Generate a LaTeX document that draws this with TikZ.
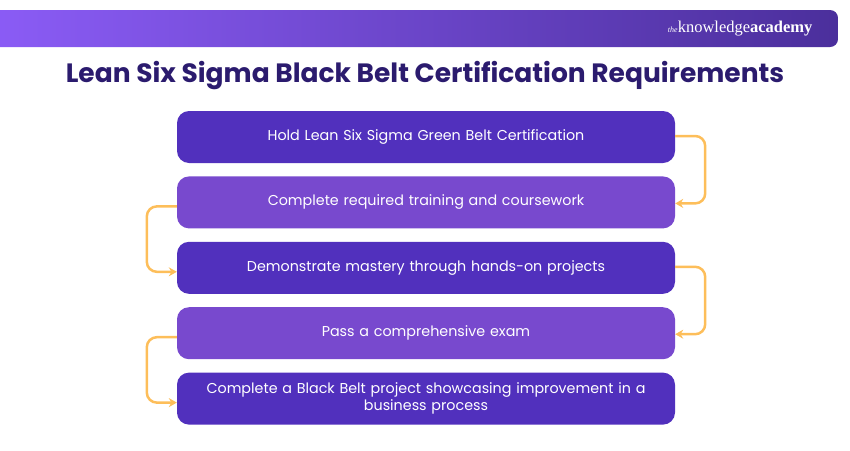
\documentclass[tikz,border=0pt]{standalone}
\usepackage{fontspec}
\setmainfont{Poppins}
\newfontfamily\logofont{Liberation Serif}
\usetikzlibrary{positioning,arrows.meta}
\definecolor{stepdark}{HTML}{5130BD}
\definecolor{steplight}{HTML}{7849CE}
\definecolor{linkorange}{HTML}{FDBE5A}
\definecolor{titlenavy}{HTML}{2B1B6E}
\definecolor{barleft}{HTML}{8B5CF6}
\definecolor{barright}{HTML}{4B2F9C}
\tikzset{
  stepbox/.style={rounded corners=12pt, minimum width=498pt, minimum height=52pt,
    text width=480pt, align=center, text=white, font=\fontsize{14.3}{17}\selectfont},
  link/.style={linkorange, line width=2.5pt, rounded corners=10pt, -{Stealth[length=8pt,width=9pt]}}
}
\begin{document}
\begin{tikzpicture}[x=1pt,y=-1pt]
\useasboundingbox (0,0) rectangle (850,450);
% header bar
\shade[left color=barleft, right color=barright, rounded corners=8pt] (-10,10) rectangle (838,47);
\node[anchor=east, text=white] (logo) at (816,29)
  {\logofont{\fontsize{8}{8}\selectfont\itshape the}\fontsize{16.5}{16}\selectfont knowledge\textbf{academy}};
\node[text=titlenavy, font=\bfseries\fontsize{26.5}{30}\selectfont] (title) at (425,76)
  {Lean Six Sigma Black Belt Certification Requirements};
% steps
\node[stepbox, fill=stepdark] (s1) at (426,137) {Hold Lean Six Sigma Green Belt Certification};
\node[stepbox, fill=steplight, below=13pt of s1] (s2) {Complete required training and coursework};
\node[stepbox, fill=stepdark, below=13pt of s2] (s3) {Demonstrate mastery through hands-on projects};
\node[stepbox, fill=steplight, below=13pt of s3] (s4) {Pass a comprehensive exam};
\node[stepbox, fill=stepdark, below=13pt of s4] (s5) {Complete a Black Belt project showcasing improvement in a\\ business process};
% connectors
\draw[link] ([yshift=1pt]s1.east) -- ++(30,0) |- ([yshift=-1pt]s2.east);
\draw[link] ([yshift=-4pt]s2.west) -- ++(-30,0) |- ([yshift=-4pt]s3.west);
\draw[link] ([yshift=1pt]s3.east) -- ++(30,0) |- ([yshift=-1pt]s4.east);
\draw[link] ([yshift=-4pt]s4.west) -- ++(-30,0) |- ([yshift=-4pt]s5.west);
\end{tikzpicture}
\end{document}
